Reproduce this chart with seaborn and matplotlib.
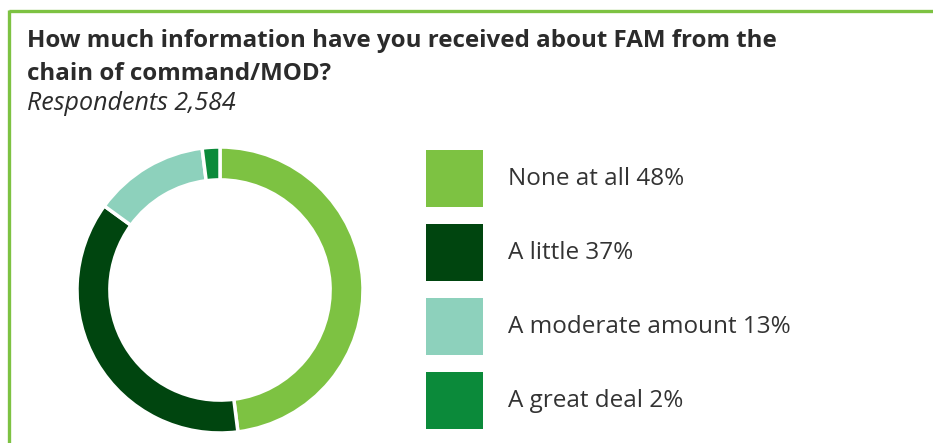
import matplotlib
matplotlib.use("Agg")
import matplotlib.pyplot as plt
import seaborn as sns
from matplotlib.lines import Line2D
from matplotlib.patches import Patch

categories = ["None at all", "A little", "A moderate amount", "A great deal"]
values = [48, 37, 13, 2]
colors = ["#7DC242", "#00450F", "#8DD1BC", "#0B8A3A"]
title_lines = ["How much information have you received about FAM from the",
               "chain of command/MOD?"]
subtitle = "Respondents 2,584"

sns.set_theme(style="white")
plt.rcParams['font.family'] = ['Open Sans', 'DejaVu Sans']

W, H = 933, 443
fig = plt.figure(figsize=(W / 100, H / 100), dpi=100)

def fx(px):
    return px / W

def fy(py):
    return 1 - py / H

# border (top and left)
fig.add_artist(Line2D([fx(9), 1.01], [fy(11), fy(11)], color="#7DC242", lw=2.4,
                      transform=fig.transFigure, solid_capstyle='butt'))
fig.add_artist(Line2D([fx(9), fx(9)], [fy(10), -0.01], color="#7DC242", lw=2.4,
                      transform=fig.transFigure, solid_capstyle='butt'))

# titles
title_fs = 17.35
fig.text(fx(27), fy(47), title_lines[0], fontsize=title_fs, fontweight='bold', color="#2B2B2B",
         va='baseline', ha='left')
fig.text(fx(27), fy(80), title_lines[1], fontsize=title_fs, fontweight='bold', color="#2B2B2B",
         va='baseline', ha='left')
fig.text(fx(27), fy(110), subtitle, fontsize=18, style='italic', color="#2B2B2B",
         va='baseline', ha='left')

# donut
cx, cy, r = 220, 290, 143
ax = fig.add_axes([fx(cx - r), fy(cy + r), (2 * r) / W, (2 * r) / H])
wedges, _ = ax.pie(values, colors=colors, startangle=90, counterclock=False,
                   wedgeprops=dict(width=0.23, edgecolor='white', linewidth=2.5))
ax.set_aspect('equal')
ax.set_xlim(-1, 1)
ax.set_ylim(-1, 1)
ax.axis('off')

labels = [f"{c} {v}%" for c, v in zip(categories, values)]
handles = [Patch(facecolor=c, edgecolor='none') for c in colors]
leg_pt = 17.5
fs_px = leg_pt * 100 / 72
box = 57
hh = (box / fs_px - 0.245) / 0.65
leg = fig.legend(handles, labels, loc='upper left', bbox_to_anchor=(fx(426), fy(150)),
                 frameon=False, fontsize=leg_pt, handlelength=box / fs_px,
                 handleheight=hh, labelspacing=17 / fs_px,
                 handletextpad=25 / fs_px, borderpad=0, borderaxespad=0,
                 labelcolor="#333333")

fig.savefig("out.png", dpi=100)
